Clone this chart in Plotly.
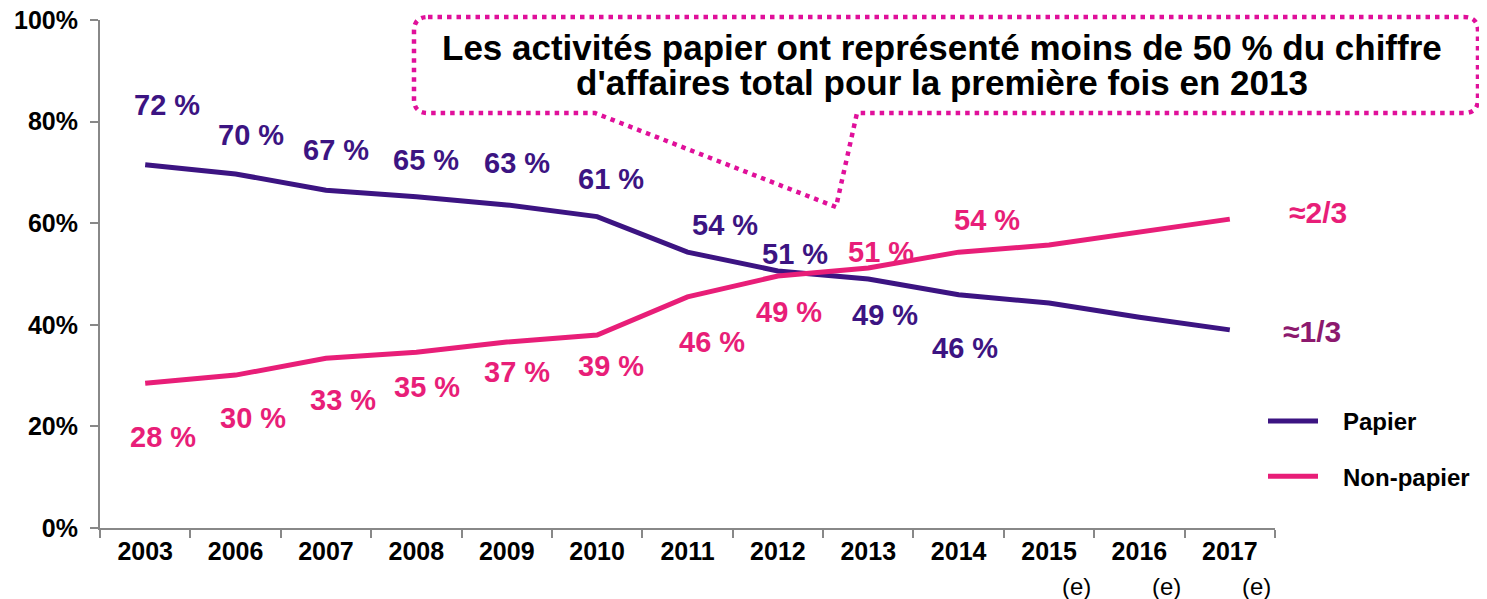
import plotly.graph_objects as go

years = ["2003", "2006", "2007", "2008", "2009", "2010", "2011",
         "2012", "2013", "2014", "2015", "2016", "2017"]
papier = [71.5, 69.7, 66.5, 65.2, 63.6, 61.3, 54.3, 50.6, 49.0, 45.9, 44.3, 41.5, 39.0]
non_papier = [28.5, 30.1, 33.4, 34.6, 36.6, 38.0, 45.5, 49.6, 51.2, 54.3, 55.7, 58.3, 60.8]

# labels shown on the chart (2003-2014 only)
papier_labels = [72, 70, 67, 65, 63, 61, 54, 51, 49, 46]
non_papier_labels = [28, 30, 33, 35, 37, 39, 46, 49, 51, 54]
estimated_years = ["2015", "2016", "2017"]

# pixel offsets of each label from its point (dx, dy up)
papier_offsets = [(22, 60), (15, 39), (10, 40), (10, 37), (10, 42),
                  (14, 38), (37, 27), (17, 17), (17, -36), (6, -53)]
non_papier_offsets = [(18, -54), (17, -43), (17, -42), (11, -35), (10, -30),
                      (14, -31), (24, -45), (11, -36), (13, 16), (28, 32)]

PAPIER = "#3C1482"
NON_PAPIER = "#E81E78"
CALLOUT = "#E0109A"
FONT = "Arial, Liberation Sans, sans-serif"

W, H = 1487, 599
OX, OY = 8, 8  # page body margin
# plot area in page pixels
L, R, T, B = 100, 1275, 20, 528


def px(x, y):
    return (x - L) / (R - L), (B - y) / (B - T)


fig = go.Figure()
fig.add_trace(go.Scatter(x=years, y=papier, mode="lines", name="\u00a0\u00a0\u00a0Papier",
                         line=dict(color=PAPIER, width=5), legendgroup="a"))
fig.add_trace(go.Scatter(x=years, y=non_papier, mode="lines", name="\u00a0\u00a0\u00a0Non-papier",
                         line=dict(color=NON_PAPIER, width=5), legendgroup="b"))

for i, lab in enumerate(papier_labels):
    dx, dy = papier_offsets[i]
    fig.add_annotation(x=i, y=papier[i], text=f"<b>{lab} %</b>", showarrow=False,
                       xanchor="center", yanchor="middle",
                       xshift=dx, yshift=dy, font=dict(size=29, color=PAPIER, family=FONT))
for i, lab in enumerate(non_papier_labels):
    dx, dy = non_papier_offsets[i]
    fig.add_annotation(x=i, y=non_papier[i], text=f"<b>{lab} %</b>", showarrow=False,
                       xanchor="center", yanchor="middle",
                       xshift=dx, yshift=dy, font=dict(size=29, color=NON_PAPIER, family=FONT))

last = len(years) - 1
fig.add_annotation(x=last, y=non_papier[-1], text="<b>≈2/3</b>", showarrow=False,
                   xanchor="center", yanchor="middle",
                   xshift=88, yshift=7, font=dict(size=30, color=NON_PAPIER, family=FONT))
fig.add_annotation(x=last, y=papier[-1], text="<b>≈1/3</b>", showarrow=False,
                   xanchor="center", yanchor="middle",
                   xshift=82, yshift=-2, font=dict(size=30, color="#8C196E", family=FONT))

for yr in estimated_years:
    fig.add_annotation(x=years.index(yr), y=0, yref="paper", text="(e)", showarrow=False,
                       xanchor="center", yanchor="middle",
                       xshift=27, yshift=-58, font=dict(size=24, color="black", family=FONT))

# callout box with pointer
r = 14
l, rr, t, b = 414, 1478, 17, 113


def P(x, y):
    a, c = px(x, y)
    return f"{a:.5f},{c:.5f}"


path = [
    "M" + P(l + r, t),
    "L" + P(rr - r, t),
    "Q" + P(rr, t) + " " + P(rr, t + r),
    "L" + P(rr, b - r),
    "Q" + P(rr, b) + " " + P(rr - r, b),
    "L" + P(857, b),
    "L" + P(836, 207),
    "L" + P(595, b),
    "L" + P(l + r, b),
    "Q" + P(l, b) + " " + P(l, b - r),
    "L" + P(l, t + r),
    "Q" + P(l, t) + " " + P(l + r, t),
    "Z",
]
fig.add_shape(type="path", xref="paper", yref="paper", path=" ".join(path),
              line=dict(color=CALLOUT, width=4.5, dash="4.5px,5px"), fillcolor="rgba(0,0,0,0)")

cx = px(942, 0)[0]
fig.add_annotation(x=cx, y=px(0, 47)[1], xref="paper", yref="paper", showarrow=False,
                   xanchor="center", yanchor="middle",
                   text="<b>Les activités papier ont représenté moins de 50 % du chiffre</b>",
                   font=dict(size=35, color="black", family=FONT))
fig.add_annotation(x=cx, y=px(0, 82)[1], xref="paper", yref="paper", showarrow=False,
                   xanchor="center", yanchor="middle",
                   text="<b>d'affaires total pour la première fois en 2013</b>",
                   font=dict(size=35, color="black", family=FONT))

fig.update_layout(
    width=W, height=H,
    margin=dict(l=L - OX, r=W - (R - OX), t=T - OY, b=H - (B - OY), autoexpand=False),
    plot_bgcolor="white", paper_bgcolor="white",
    font=dict(family=FONT, color="black"),
    showlegend=True,
    legend=dict(x=px(1263, 0)[0], y=px(0, 399)[1], xanchor="left", yanchor="top",
                font=dict(size=24, color="black", family=FONT, weight="bold"),
                tracegroupgap=21, itemwidth=50, bgcolor="rgba(0,0,0,0)"),
    xaxis=dict(type="category", range=[-0.5, len(years) - 0.5], tickson="boundaries",
               ticks="outside", ticklen=8,
               tickcolor="#888888", tickwidth=2, showline=True, linecolor="#888888",
               linewidth=2, showgrid=False, zeroline=False,
               tickfont=dict(size=25, color="black", family=FONT, weight="bold")),
    yaxis=dict(range=[0, 100], dtick=20, ticksuffix="%", ticks="outside", ticklen=8,
               tickcolor="#888888", tickwidth=2, showline=True, linecolor="#888888",
               linewidth=2, showgrid=False, zeroline=False, ticklabeloverflow="allow",
               ticklabelstandoff=7,
               tickfont=dict(size=25, color="black", family=FONT, weight="bold")),
)

fig.write_html("out.html")
